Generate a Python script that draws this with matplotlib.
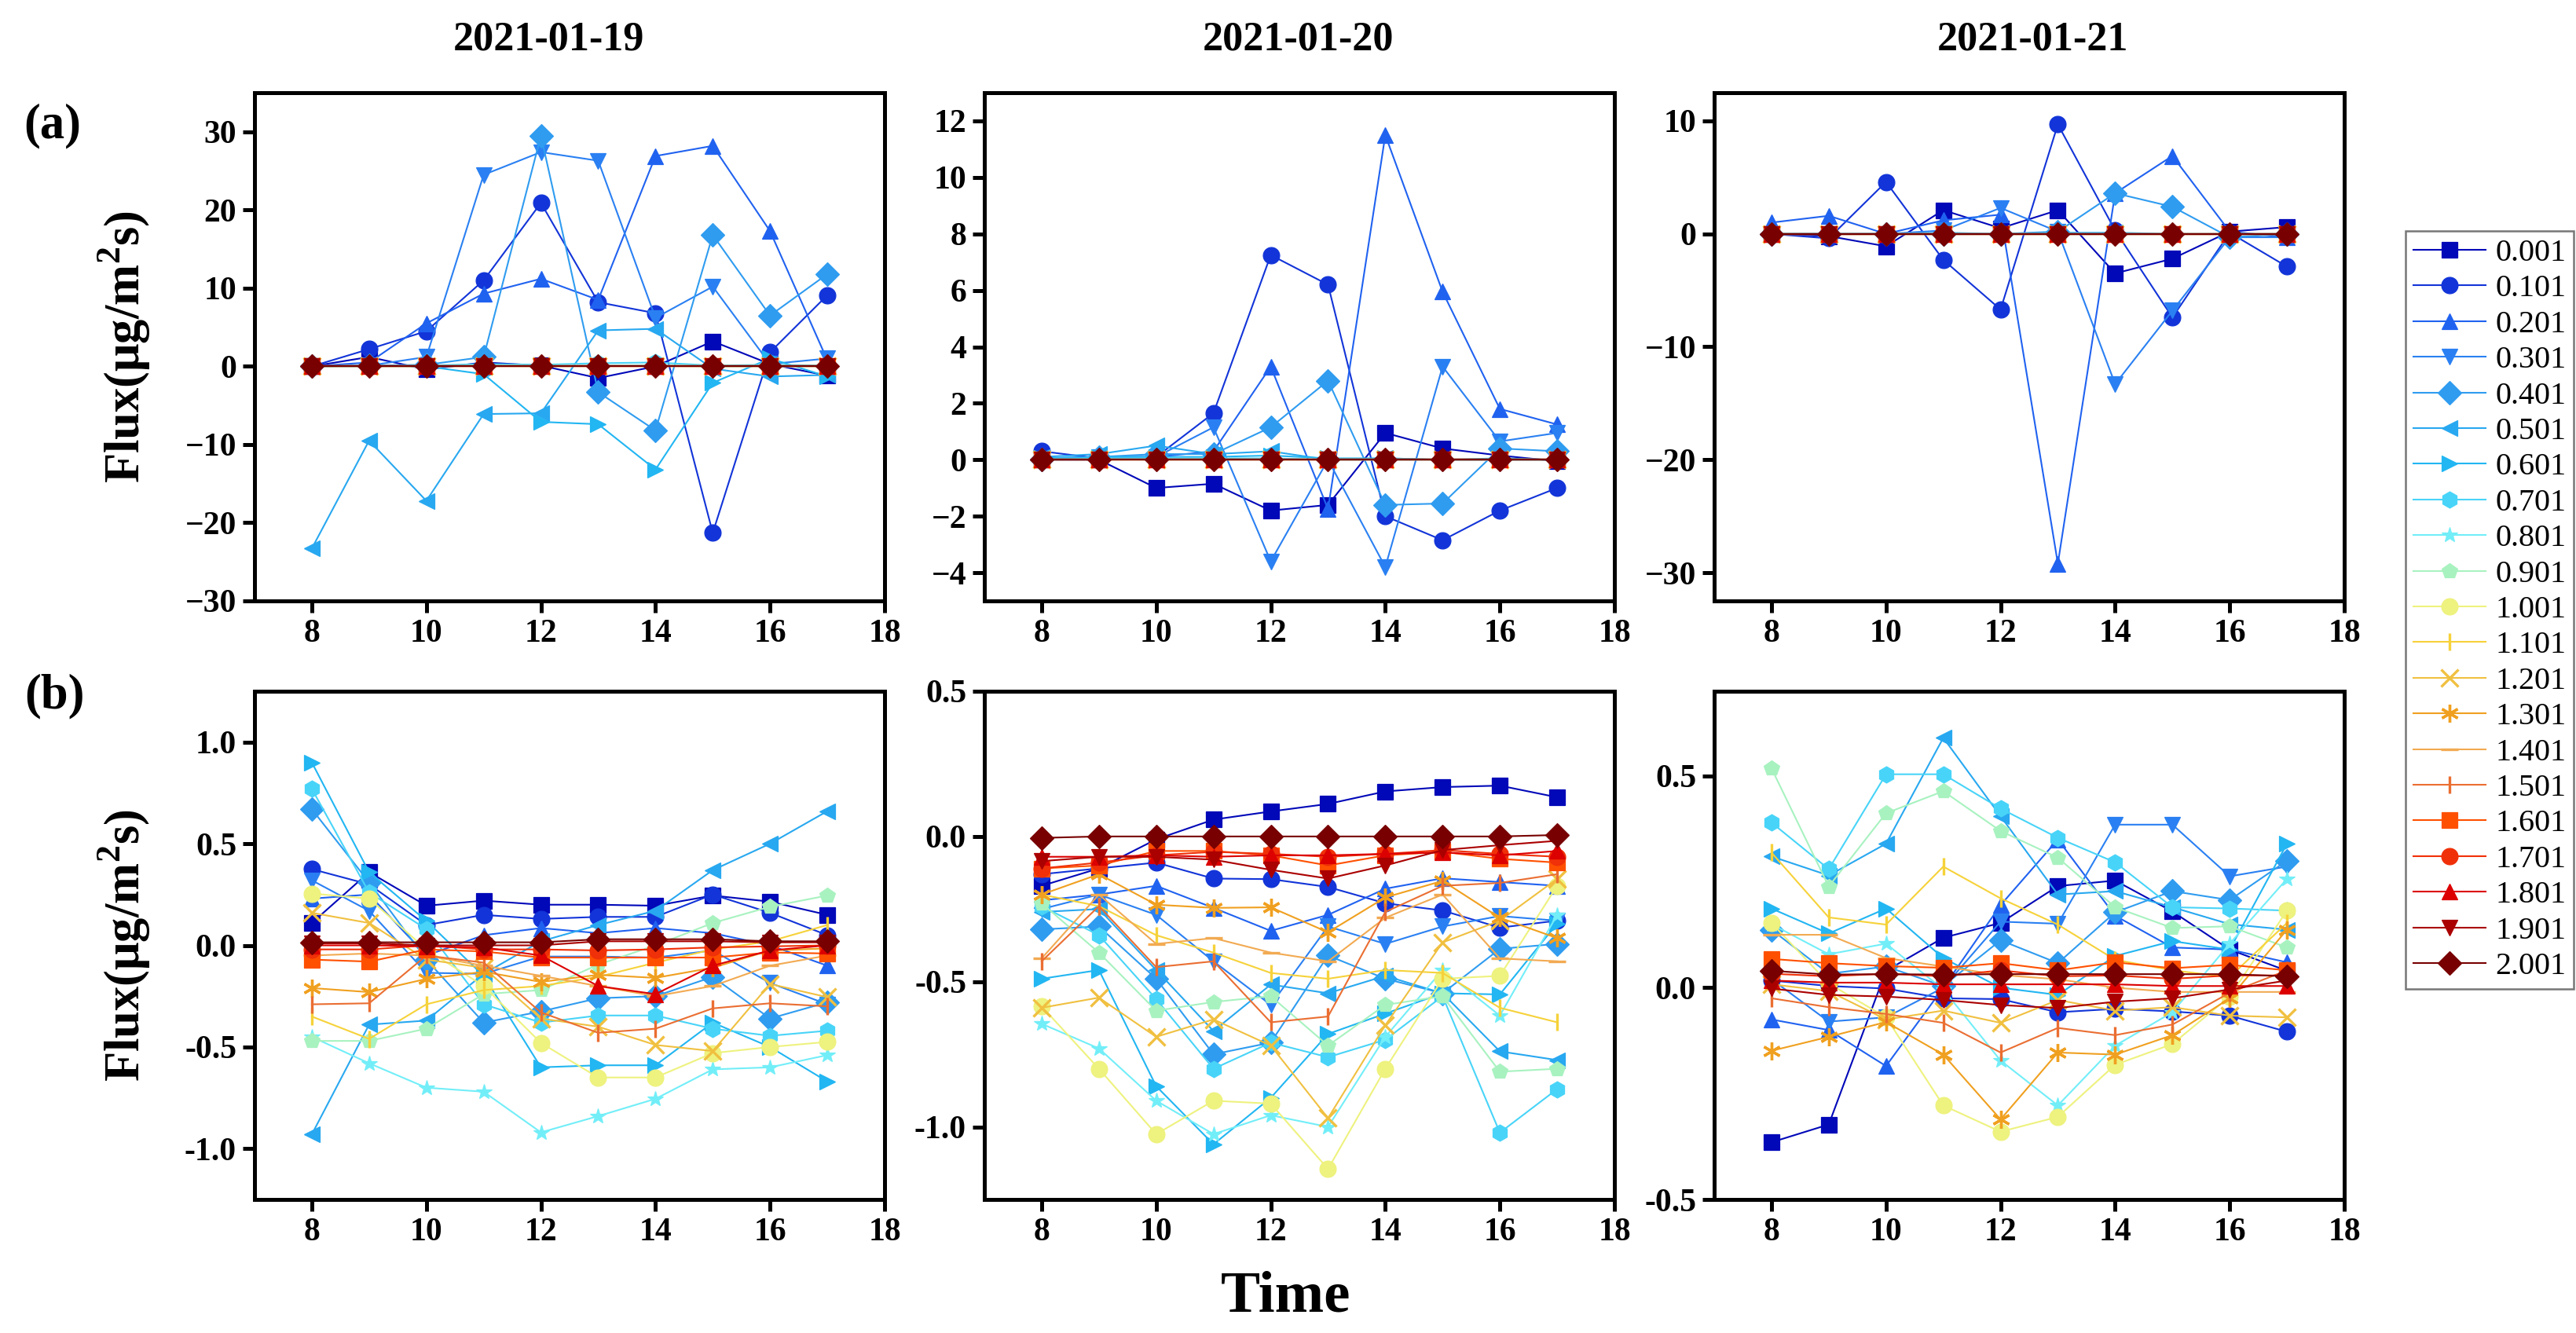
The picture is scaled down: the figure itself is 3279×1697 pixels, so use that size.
import matplotlib
matplotlib.use("Agg")
import matplotlib.pyplot as plt

plt.rcParams['font.family'] = ['Liberation Serif', 'DejaVu Serif']
plt.rcParams['mathtext.fontset'] = 'custom'
plt.rcParams['mathtext.rm'] = 'Liberation Serif:bold'
plt.rcParams['mathtext.bf'] = 'Liberation Serif:bold'

hours = [8, 9, 10, 11, 12, 13, 14, 15, 16, 17]
sizes = ['0.001', '0.101', '0.201', '0.301', '0.401', '0.501', '0.601', '0.701', '0.801', '0.901',
         '1.001', '1.101', '1.201', '1.301', '1.401', '1.501', '1.601', '1.701', '1.801', '1.901', '2.001']
dates = ['2021-01-19', '2021-01-20', '2021-01-21']

# (a) 各粒径通量
a_0119 = [
    [0, 1.2, -0.4, 0.5, 0.1, -1.5, 0.0, 3.2, 0.3, -1.2],
    [0, 2.2, 4.5, 11.0, 20.9, 8.2, 6.8, -21.3, 1.8, 9.1],
    [0, 0.5, 5.5, 9.3, 11.2, 8.5, 26.9, 28.2, 17.3, 0.8],
    [0, 0.1, 1.2, 24.5, 27.4, 26.3, 6.2, 10.2, 0.3, 1.0],
    [0, 0.1, 0.2, 1.2, 29.5, -3.3, -8.2, 16.8, 6.5, 11.8],
    [-23.3, -9.5, -17.2, -6.1, -6.0, 4.6, 4.8, -0.3, -1.3, -1.1],
    [0, 0.1, 0.0, -1.0, -7.1, -7.4, -13.2, -2.1, 1.0, -1.3],
    [0, 0, 0.1, 0.3, 0.2, 0.4, 0.5, 0.1, 0.2, 0.1],
    [0, 0.05, 0, 0.1, 0.05, 0.1, 0.15, 0, 0.05, 0.05],
    [0, 0, 0, 0.05, 0, 0.05, 0.05, 0, 0, 0],
    [0, 0, 0, 0, 0, 0, 0, 0, 0, 0],
    [0, 0, 0, 0, 0, 0, 0, 0, 0, 0],
    [0, 0, 0, 0, 0, 0, 0, 0, 0, 0],
    [0, 0, 0, 0, 0, 0, 0, 0, 0, 0],
    [0, 0, 0, 0, 0, 0, 0, 0, 0, 0],
    [0, 0, 0, 0, 0, 0, 0, 0, 0, 0],
    [0, 0, 0, 0, 0, 0, 0, 0, 0, 0],
    [0, 0, 0, 0, 0, 0, 0, 0, 0, 0],
    [0, 0, 0, 0, 0, 0, 0, 0, 0, 0],
    [0, 0, 0, 0, 0, 0, 0, 0, 0, 0],
    [0, 0, 0, 0, 0, 0, 0, 0, 0, 0],
]
a_0120 = [
    [0, 0, -1.0, -0.85, -1.8, -1.6, 0.95, 0.4, 0.15, -0.05],
    [0.3, 0.05, 0.1, 1.65, 7.25, 6.2, -2.0, -2.85, -1.8, -1.0],
    [0.05, 0.1, 0.1, 0.3, 3.3, -1.75, 11.5, 5.95, 1.8, 1.25],
    [0, 0.1, 0.1, 1.15, -3.6, 0.0, -3.8, 3.3, 0.65, 0.95],
    [0, 0.1, 0.2, 0.2, 1.15, 2.8, -1.6, -1.55, 0.4, 0.3],
    [0.1, 0.2, 0.5, 0.2, 0.3, 0.0, 0.05, 0.0, 0.0, 0.0],
    [0.05, 0.1, 0.1, 0.1, 0.15, 0.05, 0.05, 0.0, 0.05, 0.0],
    [0, 0.05, 0.05, 0.05, 0.05, 0, 0, 0, 0, 0],
    [0, 0, 0, 0, 0, 0, 0, 0, 0, 0],
    [0, 0, 0, 0, 0, 0, 0, 0, 0, 0],
    [0, 0, 0, 0, 0, 0, 0, 0, 0, 0],
    [0, 0, 0, 0, 0, 0, 0, 0, 0, 0],
    [0, 0, 0, 0, 0, 0, 0, 0, 0, 0],
    [0, 0, 0, 0, 0, 0, 0, 0, 0, 0],
    [0, 0, 0, 0, 0, 0, 0, 0, 0, 0],
    [0, 0, 0, 0, 0, 0, 0, 0, 0, 0],
    [0, 0, 0, 0, 0, 0, 0, 0, 0, 0],
    [0, 0, 0, 0, 0, 0, 0, 0, 0, 0],
    [0, 0, 0, 0, 0, 0, 0, 0, 0, 0],
    [0, 0, 0, 0, 0, 0, 0, 0, 0, 0],
    [0, 0, 0, 0, 0, 0, 0, 0, 0, 0],
]
a_0121 = [
    [0, -0.2, -1.1, 2.1, 0.5, 2.1, -3.5, -2.2, 0.2, 0.6],
    [0, -0.4, 4.6, -2.3, -6.7, 9.7, 0.3, -7.4, 0.1, -2.9],
    [1.0, 1.6, 0.0, 1.2, 1.7, -29.2, 3.6, 6.9, 0.2, -0.3],
    [0, 0, 0, 0.3, 2.3, 0.2, -13.3, -6.8, -0.3, -0.3],
    [0, 0, 0, 0, 0, 0.2, 3.6, 2.4, -0.3, 0],
    [0, 0, 0, 0.1, 0, 0.1, 0.1, 0, 0, 0],
    [0, 0, 0, 0, 0, 0, 0, 0, 0, 0],
    [0, 0, 0, 0, 0, 0, 0, 0, 0, 0],
    [0, 0, 0, 0, 0, 0, 0, 0, 0, 0],
    [0, 0, 0, 0, 0, 0, 0, 0, 0, 0],
    [0, 0, 0, 0, 0, 0, 0, 0, 0, 0],
    [0, 0, 0, 0, 0, 0, 0, 0, 0, 0],
    [0, 0, 0, 0, 0, 0, 0, 0, 0, 0],
    [0, 0, 0, 0, 0, 0, 0, 0, 0, 0],
    [0, 0, 0, 0, 0, 0, 0, 0, 0, 0],
    [0, 0, 0, 0, 0, 0, 0, 0, 0, 0],
    [0, 0, 0, 0, 0, 0, 0, 0, 0, 0],
    [0, 0, 0, 0, 0, 0, 0, 0, 0, 0],
    [0, 0, 0, 0, 0, 0, 0, 0, 0, 0],
    [0, 0, 0, 0, 0, 0, 0, 0, 0, 0],
    [0, 0, 0, 0, 0, 0, 0, 0, 0, 0],
]

# (b)
b_0119 = [
    [0.11, 0.36, 0.195, 0.22, 0.20, 0.20, 0.195, 0.245, 0.215, 0.15],
    [0.375, 0.30, 0.10, 0.15, 0.13, 0.14, 0.14, 0.25, 0.16, 0.05],
    [0.23, 0.25, -0.05, 0.05, 0.085, 0.06, 0.085, 0.06, 0.0, -0.10],
    [0.32, 0.17, -0.135, -0.14, -0.055, -0.055, -0.06, -0.025, -0.185, -0.29],
    [0.67, 0.31, -0.07, -0.38, -0.325, -0.26, -0.25, -0.155, -0.36, -0.28],
    [-0.93, -0.39, -0.37, -0.14, 0.02, 0.10, 0.17, 0.37, 0.50, 0.66],
    [0.90, 0.36, 0.12, -0.15, -0.60, -0.59, -0.59, -0.38, -0.50, -0.67],
    [0.77, 0.26, 0.08, -0.29, -0.38, -0.345, -0.345, -0.41, -0.445, -0.42],
    [-0.45, -0.58, -0.70, -0.72, -0.92, -0.84, -0.755, -0.61, -0.60, -0.54],
    [-0.47, -0.47, -0.41, -0.24, -0.22, -0.095, 0.0, 0.11, 0.19, 0.245],
    [0.255, 0.23, -0.02, -0.20, -0.48, -0.65, -0.65, -0.53, -0.50, -0.475],
    [-0.35, -0.46, -0.29, -0.22, -0.20, -0.155, -0.085, -0.02, 0.02, 0.10],
    [0.16, 0.11, -0.07, -0.11, -0.36, -0.40, -0.49, -0.52, -0.19, -0.255],
    [-0.21, -0.23, -0.165, -0.13, -0.18, -0.145, -0.16, -0.11, -0.025, -0.015],
    [-0.05, -0.04, -0.05, -0.10, -0.15, -0.20, -0.25, -0.20, -0.10, -0.05],
    [-0.29, -0.285, -0.05, -0.085, -0.33, -0.43, -0.41, -0.31, -0.285, -0.30],
    [-0.07, -0.08, -0.02, -0.03, -0.06, -0.06, -0.06, -0.06, -0.035, -0.04],
    [-0.02, -0.02, 0.0, -0.02, -0.02, -0.025, -0.02, -0.01, -0.005, 0.0],
    [0.0, 0.0, -0.005, -0.01, -0.05, -0.20, -0.24, -0.10, -0.025, 0.0],
    [0.01, 0.01, 0.0, 0.0, 0.0, 0.02, 0.02, 0.02, 0.015, 0.015],
    [0.015, 0.015, 0.015, 0.015, 0.015, 0.03, 0.03, 0.03, 0.02, 0.02],
]
b_0120 = [
    [-0.17, -0.11, -0.01, 0.058, 0.086, 0.112, 0.155, 0.17, 0.175, 0.135],
    [-0.13, -0.11, -0.09, -0.145, -0.147, -0.174, -0.23, -0.255, -0.314, -0.29],
    [-0.22, -0.20, -0.17, -0.246, -0.325, -0.27, -0.18, -0.144, -0.157, -0.17],
    [-0.25, -0.20, -0.27, -0.43, -0.58, -0.31, -0.37, -0.31, -0.274, -0.29],
    [-0.32, -0.31, -0.49, -0.75, -0.71, -0.41, -0.49, -0.54, -0.387, -0.37],
    [-0.26, -0.25, -0.46, -0.67, -0.51, -0.54, -0.48, -0.54, -0.74, -0.77],
    [-0.49, -0.46, -0.86, -1.06, -0.90, -0.68, -0.61, -0.54, -0.544, -0.30],
    [-0.24, -0.34, -0.56, -0.80, -0.71, -0.76, -0.70, -0.55, -1.02, -0.87],
    [-0.645, -0.73, -0.91, -1.025, -0.96, -1.0, -0.69, -0.46, -0.617, -0.27],
    [-0.23, -0.40, -0.60, -0.57, -0.55, -0.72, -0.58, -0.55, -0.81, -0.80],
    [-0.585, -0.80, -1.025, -0.91, -0.92, -1.145, -0.80, -0.49, -0.48, -0.17],
    [-0.20, -0.24, -0.34, -0.40, -0.47, -0.49, -0.46, -0.47, -0.59, -0.64],
    [-0.59, -0.555, -0.69, -0.63, -0.72, -0.97, -0.65, -0.365, -0.29, -0.146],
    [-0.20, -0.13, -0.235, -0.246, -0.244, -0.33, -0.21, -0.153, -0.28, -0.35],
    [-0.42, -0.20, -0.37, -0.35, -0.40, -0.43, -0.28, -0.20, -0.42, -0.43],
    [-0.43, -0.24, -0.45, -0.43, -0.64, -0.62, -0.26, -0.17, -0.16, -0.13],
    [-0.11, -0.10, -0.05, -0.05, -0.065, -0.10, -0.065, -0.053, -0.077, -0.09],
    [-0.11, -0.09, -0.065, -0.053, -0.06, -0.07, -0.06, -0.047, -0.06, -0.07],
    [-0.07, -0.07, -0.065, -0.07, -0.065, -0.065, -0.06, -0.055, -0.065, -0.05],
    [-0.085, -0.07, -0.07, -0.08, -0.115, -0.145, -0.10, -0.047, -0.03, -0.015],
    [-0.005, 0.0, 0.0, 0.0, 0.0, 0.0, 0.0, 0.0, 0.0, 0.005],
]
b_0121 = [
    [-0.365, -0.323, 0.04, 0.118, 0.153, 0.24, 0.253, 0.18, 0.09, 0.04],
    [0.017, 0.004, -0.002, -0.025, -0.027, -0.058, -0.05, -0.056, -0.066, -0.104],
    [-0.075, -0.10, -0.185, 0.0, 0.195, 0.35, 0.17, 0.095, 0.09, 0.06],
    [0.02, -0.08, -0.07, 0.0, 0.156, 0.151, 0.385, 0.385, 0.263, 0.286],
    [0.137, 0.033, 0.05, 0.004, 0.112, 0.058, 0.178, 0.228, 0.207, 0.30],
    [0.31, 0.265, 0.34, 0.59, 0.405, 0.22, 0.228, 0.19, 0.15, 0.137],
    [0.187, 0.128, 0.187, 0.07, 0.0, -0.017, 0.075, 0.11, 0.09, 0.34],
    [0.39, 0.28, 0.504, 0.504, 0.423, 0.354, 0.296, 0.19, 0.187, 0.182],
    [0.15, 0.079, 0.104, -0.004, -0.172, -0.278, -0.137, -0.058, 0.104, 0.257],
    [0.518, 0.239, 0.412, 0.464, 0.37, 0.307, 0.19, 0.141, 0.145, 0.095],
    [0.153, 0.01, -0.07, -0.278, -0.34, -0.305, -0.182, -0.133, -0.021, 0.182],
    [0.319, 0.166, 0.149, 0.286, 0.211, 0.149, 0.066, 0.041, 0.025, 0.153],
    [0.008, -0.008, -0.075, -0.054, -0.083, -0.029, -0.054, -0.046, -0.066, -0.07],
    [-0.149, -0.116, -0.081, -0.158, -0.311, -0.153, -0.158, -0.112, -0.025, 0.137],
    [0.125, 0.125, 0.07, 0.05, 0.03, 0.02, 0.0, -0.01, -0.01, -0.01],
    [-0.025, -0.046, -0.062, -0.083, -0.153, -0.095, -0.112, -0.087, -0.012, 0.041],
    [0.068, 0.058, 0.051, 0.047, 0.058, 0.041, 0.06, 0.046, 0.054, 0.041],
    [0.033, 0.027, 0.033, 0.027, 0.041, 0.027, 0.029, 0.021, 0.029, 0.029],
    [0.017, 0.012, 0.012, 0.008, 0.008, 0.008, 0.008, 0.004, 0.004, 0.004],
    [-0.002, -0.017, -0.021, -0.029, -0.041, -0.048, -0.033, -0.025, -0.004, 0.017],
    [0.04, 0.031, 0.032, 0.031, 0.032, 0.032, 0.032, 0.032, 0.032, 0.027],
]

colors = ['#0008b8', '#1234d8', '#2062f0', '#2a80f2', '#2f9cf0', '#28a8f0', '#22b6f2', '#48d4f8',
          '#72eef8', '#a8f2c0', '#eef27e', '#f6d23a', '#f0c040', '#f0a020', '#f2aa52', '#ea6e32',
          '#ff5000', '#f03008', '#dc0000', '#aa0000', '#780000']
markers = ['s', 'o', '^', 'v', 'D', '<', '>', 'h', '*', 'p',
           'o', '|', 'x', (6, 2, 0), '_', '|', 's', 'o', '^', 'v', 'D']

panels = [[a_0119, a_0120, a_0121], [b_0119, b_0120, b_0121]]
ylims = [[(-30, 35), (-5, 13), (-32.5, 12.5)], [(-1.25, 1.25), (-1.25, 0.5), (-0.5, 0.7)]]
yticks = [[range(-30, 31, 10), range(-4, 13, 2), range(-30, 11, 10)],
          [[-1.0, -0.5, 0.0, 0.5, 1.0], [-1.0, -0.5, 0.0, 0.5], [-0.5, 0.0, 0.5]]]

fig = plt.figure(figsize=(3279 / 300, 1697 / 300), dpi=300)
lefts = [324 / 3279, 1253 / 3279, 2182 / 3279]
bottoms = [1 - 765 / 1697, 1 - 1527 / 1697]
w, h = 802 / 3279, 647 / 1697

tick_font = {'family': 'Liberation Serif', 'weight': 'bold', 'size': 10}

for r in range(2):
    for c in range(3):
        ax = fig.add_axes([lefts[c], bottoms[r], w, h])
        data = panels[r][c]
        for i, s in enumerate(sizes):
            thin = markers[i] in ('|', '_', 'x', (6, 2, 0))
            ax.plot(hours, data[i], color=colors[i], marker=markers[i],
                    markersize=5.5 if thin else 5,
                    markeredgewidth=0.8 if thin else 0.3,
                    linewidth=0.5, label=s)
        ax.set_xlim(7, 18)
        ax.set_xticks([8, 10, 12, 14, 16, 18])
        ax.set_ylim(*ylims[r][c])
        ax.set_yticks(list(yticks[r][c]))
        if r == 1:
            ax.set_yticklabels(['%.1f' % v for v in yticks[r][c]])
        for sp in ax.spines.values():
            sp.set_linewidth(1.2)
        ax.tick_params(direction='out', length=3.5, width=1.2, pad=2)
        for lab in ax.get_xticklabels() + ax.get_yticklabels():
            lab.set_fontproperties(tick_font)
        if r == 0 and c == 0:
            handles, labels = ax.get_legend_handles_labels()

title_x = [698 / 3279, 1652 / 3279, 2588 / 3279]
for c in range(3):
    fig.text(title_x[c], 1 - 51 / 1697, dates[c], ha='center', va='center',
             fontsize=12.5, fontweight='bold')

fig.text(67 / 3279, 1 - 160 / 1697, '(a)', ha='center', va='center', fontsize=15, fontweight='bold')
fig.text(70 / 3279, 1 - 886 / 1697, '(b)', ha='center', va='center', fontsize=15, fontweight='bold')

ylab = r'Flux(μg/m$^{\mathbf{2}}$s)'
fig.text(158 / 3279, 1 - 441 / 1697, ylab, rotation=90, ha='center', va='center',
         fontsize=15, fontweight='bold')
fig.text(158 / 3279, 1 - 1203 / 1697, ylab, rotation=90, ha='center', va='center',
         fontsize=15, fontweight='bold')
fig.text(0.499, 1 - 1652 / 1697, 'Time', ha='center', va='center', fontsize=18, fontweight='bold')

leg = fig.legend(handles, labels, loc='upper left', bbox_to_anchor=(3062 / 3279, 1 - 294 / 1697),
                 frameon=True, fancybox=False, edgecolor='#555555', fontsize=9.6,
                 handlelength=2.3, handletextpad=0.3, labelspacing=0.21, borderpad=0.25,
                 borderaxespad=0)
leg.get_frame().set_linewidth(0.6)

fig.savefig('out.png', dpi=300)
